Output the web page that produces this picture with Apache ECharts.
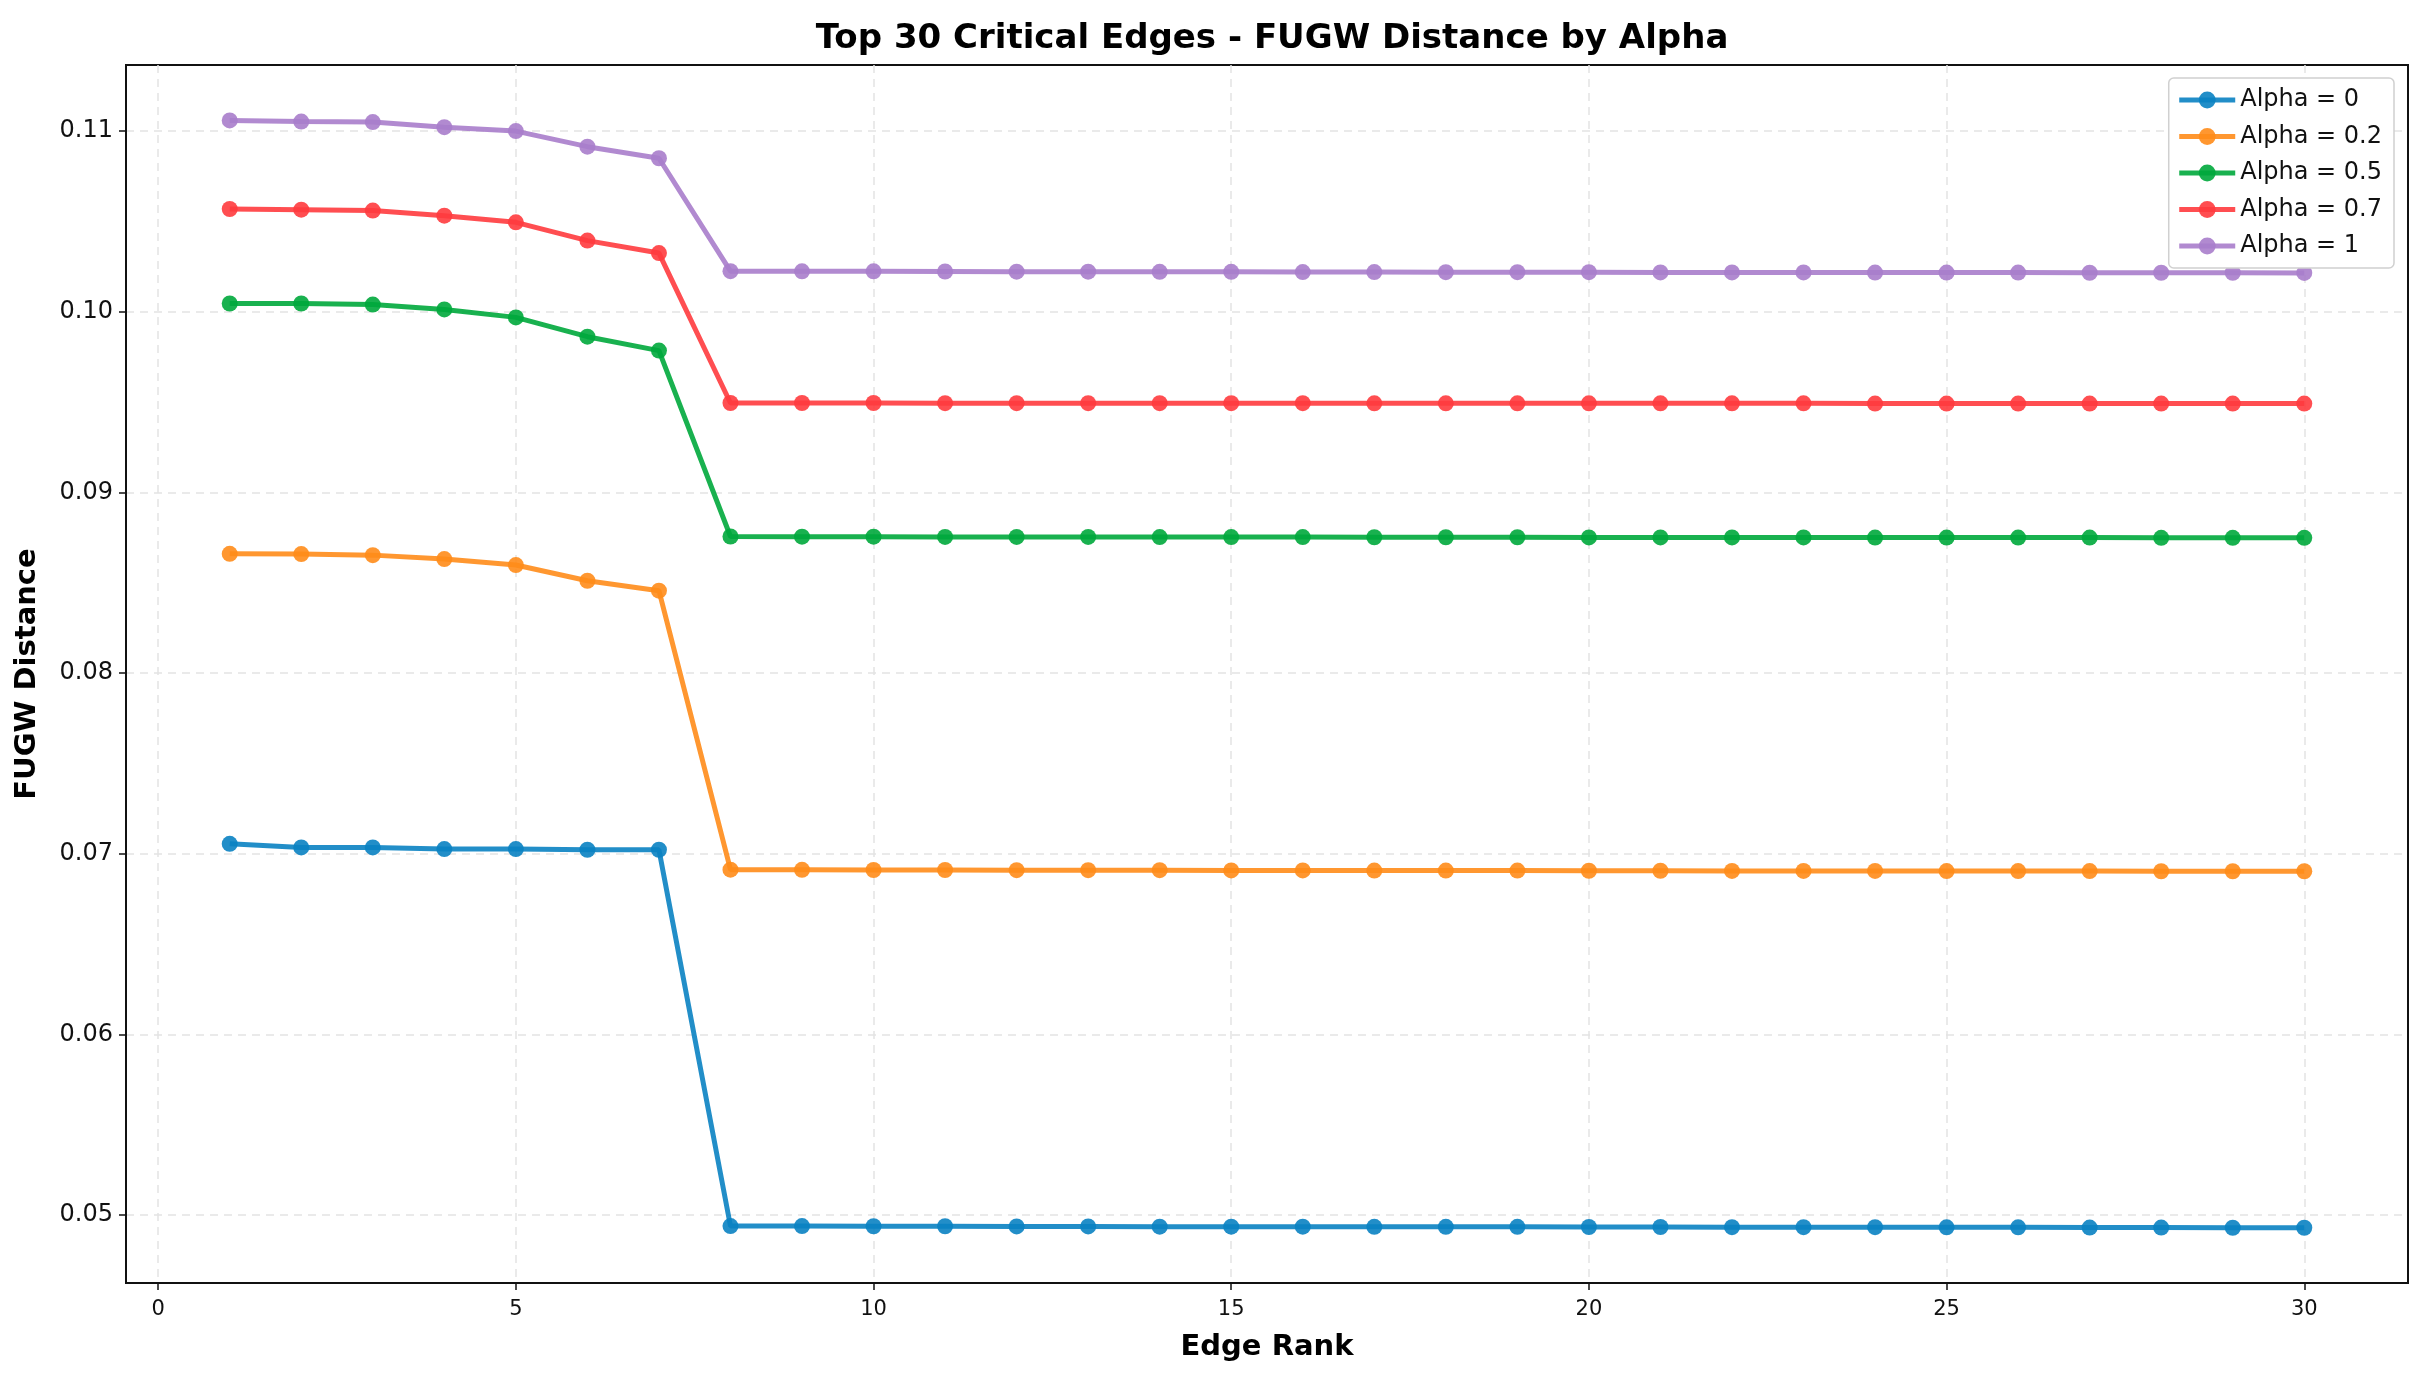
<html lang="en">
<head>
	<meta charset="UTF-8">
	<script src="https://cdn.jsdelivr.net/npm/echarts@6/dist/echarts.min.js"></script>
	<title>Top 30 Critical Edges - FUGW Distance by Alpha</title>
</head>
<body style="margin:0">
<div id="pic" style="width:2433px;height:1386px"></div>
</body>
<script>
	"use strict";

	// edge rank 1..30
	const rank=[1,2,3,4,5,6,7,8,9,10,11,12,13,14,15,16,17,18,19,20,21,22,23,24,25,26,27,28,29,30];
	const names=["Alpha = 0","Alpha = 0.2","Alpha = 0.5","Alpha = 0.7","Alpha = 1"];
	const colors=["#0a82c2","#ff8c1a","#00a83c","#ff3b3e","#a97dcb"];

	const a0=[0.07055,0.07035,0.07035,0.07026,0.07026,0.07022,0.07022,0.04939,0.04939,0.04938,0.04938,0.04937,0.04937,0.04936,0.04936,0.04936,0.04935,0.04935,0.04935,0.04934,0.04934,0.04933,0.04933,0.04933,0.04932,0.04932,0.04931,0.04931,0.04930,0.04930];
	const a2=[0.08660,0.08659,0.08653,0.08631,0.08598,0.08511,0.08456,0.06912,0.06911,0.06910,0.06910,0.06909,0.06909,0.06909,0.06908,0.06908,0.06907,0.06907,0.06907,0.06906,0.06906,0.06905,0.06905,0.06905,0.06904,0.06904,0.06904,0.06903,0.06903,0.06903];
	const a5=[0.10046,0.10046,0.10040,0.10013,0.09969,0.09862,0.09785,0.08756,0.08755,0.08755,0.08754,0.08754,0.08754,0.08753,0.08753,0.08753,0.08752,0.08752,0.08752,0.08751,0.08751,0.08751,0.08751,0.08750,0.08750,0.08750,0.08750,0.08749,0.08749,0.08749];
	const a7=[0.10569,0.10565,0.10560,0.10532,0.10495,0.10394,0.10325,0.09495,0.09495,0.09495,0.09494,0.09494,0.09494,0.09494,0.09494,0.09494,0.09493,0.09493,0.09493,0.09493,0.09493,0.09493,0.09493,0.09492,0.09492,0.09492,0.09492,0.09492,0.09492,0.09492];
	const a10=[0.11059,0.11053,0.11050,0.11022,0.11000,0.10914,0.10850,0.10225,0.10224,0.10224,0.10223,0.10222,0.10222,0.10221,0.10221,0.10220,0.10220,0.10219,0.10219,0.10219,0.10218,0.10218,0.10218,0.10217,0.10217,0.10217,0.10216,0.10216,0.10216,0.10215];

	const xTicks=[0,5,10,15,20,25,30];
	const yTicks=[0.05,0.06,0.07,0.08,0.09,0.10,0.11];

	const font="DejaVu Sans";
	let vals=[a0,a2,a5,a7,a10];
	let series=[];
	for(let i=0; i<vals.length; i++)
	{
		series.push({
			name:names[i],
			type:"line",
			data:rank.map((r,j)=>[r,vals[i][j]]),
			symbol:"circle",
			symbolSize:16,
			lineStyle:{width:5,color:colors[i],opacity:0.9},
			itemStyle:{color:colors[i],opacity:0.9},
			emphasis:{disabled:true}
		});
	}

	let pic=echarts.init(document.getElementById("pic"));
	let option=
		{
			animation:false,
			backgroundColor:"#fff",
			color:colors,
			title:{
				text:"Top 30 Critical Edges - FUGW Distance by Alpha",
				left:1267,
				top:17,
				textAlign:"center",
				textStyle:{fontFamily:font,fontSize:34,fontWeight:"bold",color:"#000"}
			},
			legend:{
				orient:"vertical",
				right:39,
				top:78,
				padding:[9,12,9,8],
				itemWidth:56,
				itemHeight:21,
				itemGap:10.5,
				backgroundColor:"#fff",
				borderColor:"#d0d0d0",
				borderWidth:1.5,
				borderRadius:5,
				lineStyle:{width:5},
				textStyle:{fontFamily:font,fontSize:24,color:"#111",lineHeight:26}
			},
			grid:{
				left:126,right:25,top:65,bottom:103,
				show:true,borderColor:"#111",borderWidth:2
			},
			xAxis:{
				type:"value",
				min:-0.45,
				max:31.45,
				name:"Edge Rank",
				nameLocation:"middle",
				nameGap:50,
				nameTextStyle:{fontFamily:font,fontSize:29,fontWeight:"bold",color:"#000"},
				axisLine:{onZero:false,lineStyle:{color:"#111",width:2}},
				axisTick:{show:true,length:7,customValues:xTicks,lineStyle:{color:"#111",width:1.5}},
				axisLabel:{customValues:xTicks,margin:16,fontFamily:font,fontSize:21,color:"#111"},
				splitLine:{show:true,lineStyle:{color:"#e3e3e3",type:[8,6],width:1.5}}
			},
			yAxis:{
				type:"value",
				min:0.04624,
				max:0.11366,
				name:"FUGW Distance",
				nameLocation:"middle",
				nameGap:84,
				nameTextStyle:{fontFamily:font,fontSize:29,fontWeight:"bold",color:"#000"},
				axisLine:{show:true,onZero:false,lineStyle:{color:"#111",width:2}},
				axisTick:{show:true,length:7,customValues:yTicks,lineStyle:{color:"#111",width:1.5}},
				axisLabel:{customValues:yTicks,margin:13,fontFamily:font,fontSize:24,color:"#111",
					formatter:v=>v.toFixed(2)},
				splitLine:{show:true,lineStyle:{color:"#e3e3e3",type:[8,6],width:1.5}}
			},
			series:series
		};
	pic.setOption(option);
</script>
</html>
